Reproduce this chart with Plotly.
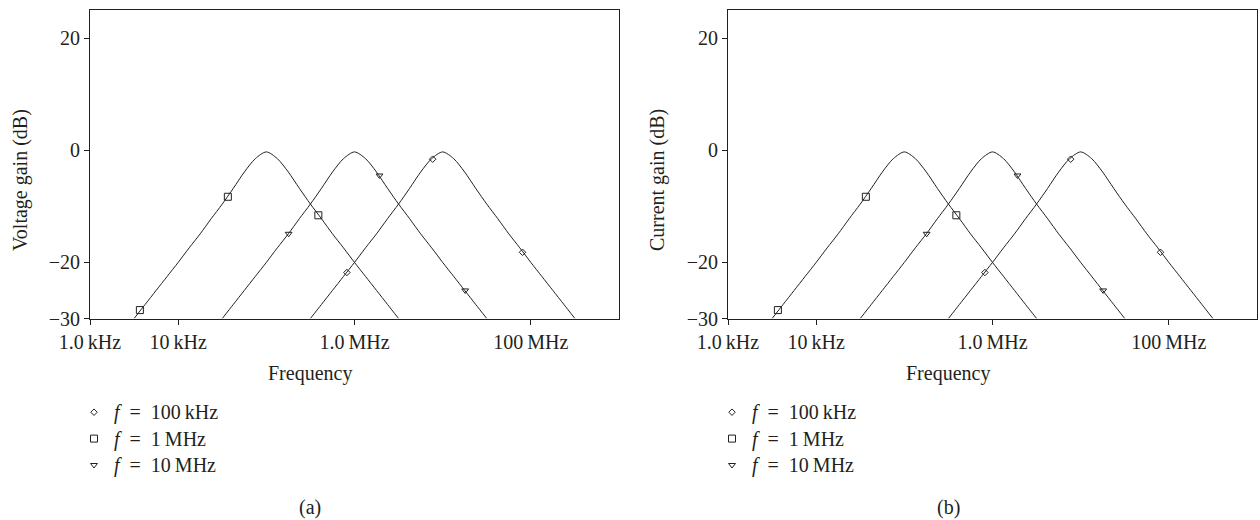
import plotly.graph_objects as go

# Shared frequency grid (Hz), 1/8-decade steps from 3.16 kHz to 316 MHz
freq_hz = [
    3162, 4217, 5623, 7499, 10000, 13335, 17783, 23714, 31623, 42170,
    56234, 74989, 100000, 133352, 177828, 237137, 316228, 421697, 562341, 749894,
    1.0e6, 1.33352e6, 1.77828e6, 2.37137e6, 3.16228e6, 4.21697e6, 5.62341e6, 7.49894e6,
    1.0e7, 1.33352e7, 1.77828e7, 2.37137e7, 3.16228e7, 4.21697e7, 5.62341e7, 7.49894e7,
    1.0e8, 1.33352e8, 1.77828e8, 2.37137e8, 3.16228e8,
]

# Gain responses (dB) on the grid; None where the curve lies below the plotted range
gain_peak_100k = [
    -30.0, -27.5, -25.0, -22.5, -20.0, -17.4, -14.9, -12.2, -9.6, -6.8, -3.9, -1.5, -0.3,
    -1.5, -3.9, -6.8, -9.6, -12.2, -14.9, -17.4, -20.0, -22.5, -25.0, -27.5, -30.0,
    None, None, None, None, None, None, None, None, None, None, None, None, None, None, None, None,
]
gain_peak_1M = [
    None, None, None, None, None, None, None, None,
    -30.0, -27.5, -25.0, -22.5, -20.0, -17.4, -14.9, -12.2, -9.6, -6.8, -3.9, -1.5, -0.3,
    -1.5, -3.9, -6.8, -9.6, -12.2, -14.9, -17.4, -20.0, -22.5, -25.0, -27.5, -30.0,
    None, None, None, None, None, None, None, None,
]
gain_peak_10M = [
    None, None, None, None, None, None, None, None, None, None, None, None, None, None, None, None,
    -30.0, -27.5, -25.0, -22.5, -20.0, -17.4, -14.9, -12.2, -9.6, -6.8, -3.9, -1.5, -0.3,
    -1.5, -3.9, -6.8, -9.6, -12.2, -14.9, -17.4, -20.0, -22.5, -25.0, -27.5, -30.0,
]

# Marker points for each legend symbol
diamond_freq = [820e3, 7.7e6, 80.5e6]
diamond_gain = [-21.8, -1.6, -18.2]
square_freq = [3680, 36.6e3, 389e3]
square_gain = [-28.5, -8.3, -11.6]
triangle_freq = [179e3, 1.92e6, 18e6]
triangle_gain = [-14.9, -4.5, -25.0]

legend_labels = ["<i>f</i>\u2002=\u2002100\u2009kHz", "<i>f</i>\u2002=\u20021\u2009MHz",
                 "<i>f</i>\u2002=\u200210\u2009MHz"]

x_tickvals = [1e3, 1e4, 1e6, 1e8]
x_ticktext = ["1.0\u2009kHz", "10\u2009kHz", "1.0\u2009MHz", "100\u2009MHz"]
y_tickvals = [20, 0, -20, -30]
y_ticktext = ["20", "0", "\u221220", "\u221230"]

INK = "#231f20"
FONT = "Liberation Serif"
W, H = 1260, 520

fig = go.Figure()

panels = [
    dict(xa="x", ya="y", legend="legend"),
    dict(xa="x2", ya="y2", legend="legend2"),
]

for p in panels:
    for g in (gain_peak_100k, gain_peak_1M, gain_peak_10M):
        fig.add_trace(go.Scatter(
            x=freq_hz, y=g, mode="lines", xaxis=p["xa"], yaxis=p["ya"],
            line=dict(color=INK, width=1, shape="spline", smoothing=0.8),
            showlegend=False, hoverinfo="skip", connectgaps=False,
        ))
    markers = [
        (diamond_freq, diamond_gain, "diamond-open", 5),
        (square_freq, square_gain, "square-open", 7),
        (triangle_freq, triangle_gain, "triangle-down-open", 6),
    ]
    for i, (fx, gy, sym, sz) in enumerate(markers):
        fig.add_trace(go.Scatter(
            x=fx, y=gy, mode="markers", xaxis=p["xa"], yaxis=p["ya"],
            marker=dict(symbol=sym, size=sz, color=INK, line=dict(color=INK, width=1)),
            name=f'<span style="font-size:20px">{legend_labels[i]}</span>',
            legend=p["legend"], showlegend=True,
        ))

def px_x(v):
    return v / W

def px_y(v):
    return 1 - v / H

axis_common = dict(
    showline=True, linecolor=INK, linewidth=1, mirror=True,
    ticks="outside", ticklen=5, tickcolor=INK, tickwidth=1,
    showgrid=False, zeroline=False, automargin=False,
    tickfont=dict(family=FONT, size=20, color=INK),
)

# legend font size sets the row pitch; the label text itself is drawn larger
legend_common = dict(
    xanchor="left", yanchor="top", traceorder="normal",
    bgcolor="rgba(0,0,0,0)", borderwidth=0,
    font=dict(family=FONT, size=18, color=INK),
)

y_dom = [px_y(318.5), px_y(10)]
fig.update_layout(
    width=W, height=H,
    margin=dict(l=0, r=0, t=0, b=0, autoexpand=False),
    paper_bgcolor="white", plot_bgcolor="white",
    font=dict(family=FONT, size=20, color=INK),
    xaxis=dict(domain=[px_x(90), px_x(619)], type="log", range=[3, 9],
               tickvals=x_tickvals, ticktext=x_ticktext, anchor="y", **axis_common),
    yaxis=dict(domain=y_dom, range=[-30, 25], tickvals=y_tickvals, ticktext=y_ticktext,
               anchor="x", **axis_common),
    xaxis2=dict(domain=[px_x(728), px_x(1257)], type="log", range=[3, 9],
                tickvals=x_tickvals, ticktext=x_ticktext, anchor="y2", **axis_common),
    yaxis2=dict(domain=y_dom, range=[-30, 25], tickvals=y_tickvals, ticktext=y_ticktext,
                anchor="x2", **axis_common),
    legend=dict(x=px_x(74), y=px_y(394), **legend_common),
    legend2=dict(x=px_x(712), y=px_y(394), **legend_common),
)

annotations = [
    dict(text="Voltage gain (dB)", x=px_x(20), y=px_y(180), textangle=-90),
    dict(text="Frequency", x=px_x(310), y=px_y(373)),
    dict(text="(a)", x=px_x(310), y=px_y(507)),
    dict(text="Current gain (dB)", x=px_x(657), y=px_y(180), textangle=-90),
    dict(text="Frequency", x=px_x(948), y=px_y(373)),
    dict(text="(b)", x=px_x(948), y=px_y(507)),
]
for a in annotations:
    fig.add_annotation(xref="paper", yref="paper", showarrow=False,
                       xanchor="center", yanchor="middle",
                       font=dict(family=FONT, size=20, color=INK), **a)

fig.write_html("out.html")
